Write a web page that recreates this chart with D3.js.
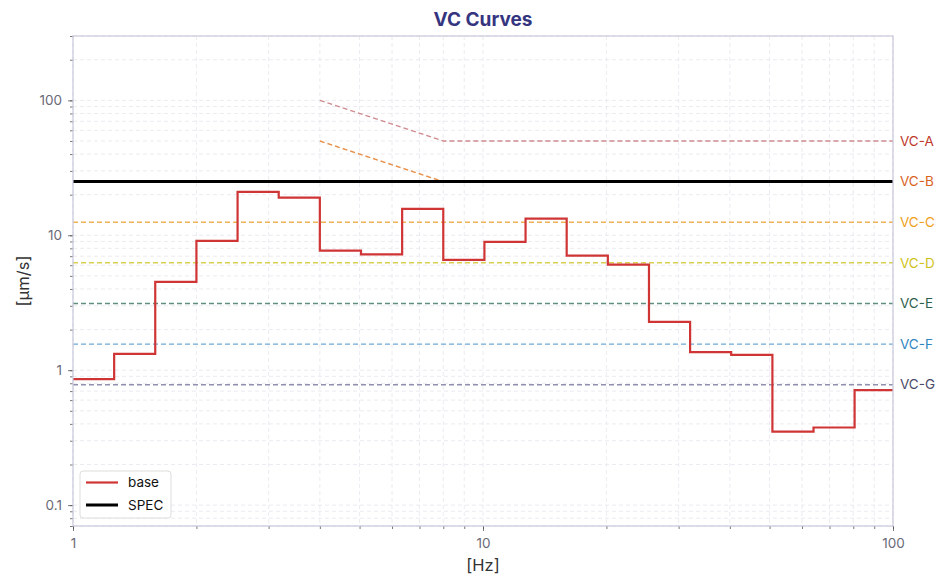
<!DOCTYPE html>
<html><head><meta charset="utf-8">
<script src="https://cdn.jsdelivr.net/npm/d3@7"></script>
<style>
body{margin:0;background:#fff;}
svg{font-family:Inter,"Noto Sans",sans-serif;}
</style></head>
<body>
<svg id="c" width="949" height="587"></svg>
<script>
// ---- data ----
const bandFreqs = [1,1.26,1.587,2,2.52,3.175,4,5.04,6.35,8,10.08,12.7,16,20.16,25.4,32,40.3,50.8,64,80.6,101.6];
const baseValues = [0.86,1.32,4.51,9.08,21.0,19.0,7.7,7.22,15.7,6.57,8.93,13.3,7.07,6.05,2.28,1.36,1.30,0.351,0.376,0.711,0.711];
const specValue = 25;
const vcNames = ["VC-A","VC-B","VC-C","VC-D","VC-E","VC-F","VC-G"];
const vcLevels = [50,25,12.5,6.25,3.12,1.56,0.78];
const vcStartFreq = [4,4,1,1,1,1,1];
const vcCornerFreq = 8;
const vcLineColors = ["#cf8a8f","#e8904a","#f0b256","#d8cf52","#5f8f7d","#6ea9d6","#8f8fae"];
const vcLabelColors = ["#c0392b","#d9631e","#f0a020","#cfc21a","#2f5f4f","#2e86c1","#4a4a6a"];
const xTickLabels = [1,10,100];
const yTickLabels = [0.1,1,10,100];
const xDomain = [1,100];
const yDomain = [0.07,300];

// ---- layout ----
const svg = d3.select("#c");
const L=73,R=893,T=36,B=526;
const x = d3.scaleLog().domain(xDomain).range([L,R]);
const y = d3.scaleLog().domain(yDomain).range([B,T]);

// minor values
const xMinor=[], yMinor=[];
for (let d=1; d<100; d*=10) for (let k=1;k<=9;k++){const v=d*k; if(v>=xDomain[0]&&v<=xDomain[1]) xMinor.push(v);} 
xMinor.push(100);
for (let d=0.01; d<1000; d*=10) for (let k=1;k<=9;k++){const v=+(d*k).toPrecision(3); if(v>=yDomain[0]-1e-9&&v<=yDomain[1]+1e-9) yMinor.push(v);}

// grid
const grid = svg.append("g").attr("stroke","#e6e6ee").attr("stroke-width",0.8).attr("stroke-dasharray","4,3");
grid.selectAll("line.gx").data(xMinor).join("line").attr("x1",d=>x(d)).attr("x2",d=>x(d)).attr("y1",T).attr("y2",B);
grid.selectAll("line.gy").data(yMinor).join("line").attr("y1",d=>y(d)).attr("y2",d=>y(d)).attr("x1",L).attr("x2",R);

// axes
const xAxis = d3.axisBottom(x).tickValues(xTickLabels).tickFormat(d3.format("~g")).tickSize(5).tickPadding(7);
const xAxisMinor = d3.axisBottom(x).tickValues(xMinor).tickFormat("").tickSize(3);
const yAxis = d3.axisLeft(y).tickValues(yTickLabels).tickFormat(d3.format("~g")).tickSize(5).tickPadding(6);
const yAxisMinor = d3.axisLeft(y).tickValues(yMinor).tickFormat("").tickSize(3);
function style(g){g.select(".domain").remove(); g.selectAll("line").attr("stroke","#555").attr("stroke-width",0.8); g.selectAll("text").attr("fill","#6a6a78").attr("font-size",13.5).attr("font-family","Inter,sans-serif");}
svg.append("g").attr("transform",`translate(0,${B})`).call(xAxisMinor).call(style);
svg.append("g").attr("transform",`translate(0,${B})`).call(xAxis).call(style);
svg.append("g").attr("transform",`translate(${L},0)`).call(yAxisMinor).call(style);
svg.append("g").attr("transform",`translate(${L},0)`).call(yAxis).call(style);

// clip
svg.append("clipPath").attr("id","clip").append("rect").attr("x",L).attr("y",T).attr("width",R-L).attr("height",B-T);
const plot = svg.append("g").attr("clip-path","url(#clip)");
const line = d3.line().x(d=>x(d[0])).y(d=>y(d[1]));

// VC curves
vcNames.forEach((n,i)=>{
  let pts;
  if (vcStartFreq[i] < vcCornerFreq && vcStartFreq[i] > 1) {
    pts = [[vcStartFreq[i], vcLevels[i]*vcCornerFreq/vcStartFreq[i]],[vcCornerFreq,vcLevels[i]],[xDomain[1],vcLevels[i]]];
  } else pts = [[xDomain[0],vcLevels[i]],[xDomain[1],vcLevels[i]]];
  plot.append("path").attr("d",line(pts)).attr("fill","none").attr("stroke",vcLineColors[i]).attr("stroke-width",1.4).attr("stroke-dasharray","5,3");
  svg.append("text").attr("x",R+7).attr("y",y(vcLevels[i])).attr("dy","0.35em").attr("fill",vcLabelColors[i]).attr("font-size",13.5).text(n);
});

// SPEC
plot.append("path").attr("d",line([[xDomain[0],specValue],[xDomain[1],specValue]])).attr("stroke","#000").attr("stroke-width",3).attr("fill","none");

// base
const stepLine = d3.line().x(d=>x(d[0])).y(d=>y(d[1])).curve(d3.curveStepAfter);
plot.append("path").attr("d",stepLine(bandFreqs.map((f,i)=>[f,baseValues[i]]))).attr("fill","none").attr("stroke","#d03535").attr("stroke-width",2.2);

// frame
svg.append("rect").attr("x",L).attr("y",T).attr("width",R-L).attr("height",B-T).attr("fill","none").attr("stroke","#c8c8dc").attr("stroke-width",1.2);

// title & labels
svg.append("text").attr("x",(L+R)/2).attr("y",26).attr("text-anchor","middle").attr("font-size",19).attr("font-weight","bold").attr("fill","#35357f").text("VC Curves");
svg.append("text").attr("x",(L+R)/2).attr("y",571).attr("text-anchor","middle").attr("font-size",16.5).attr("fill","#333").text("[Hz]");
svg.append("text").attr("transform",`translate(29,${(T+B)/2}) rotate(-90)`).attr("text-anchor","middle").attr("font-size",16.5).attr("fill","#333").text("[μm/s]");

// legend
const lg = svg.append("g").attr("transform","translate(80,471)");
lg.append("rect").attr("width",91).attr("height",47).attr("rx",3).attr("fill","#fff").attr("fill-opacity",0.9).attr("stroke","#ddd");
const legendItems=[["base","#d03535",2.2],["SPEC","#000",3]];
legendItems.forEach((d,i)=>{
  lg.append("line").attr("x1",6).attr("x2",38).attr("y1",11.5+i*22.5).attr("y2",11.5+i*22.5).attr("stroke",d[1]).attr("stroke-width",d[2]);
  lg.append("text").attr("x",48).attr("y",11.5+i*22.5).attr("dy","0.35em").attr("font-size",13.5).attr("fill","#111").text(d[0]);
});
</script>
</body></html>
